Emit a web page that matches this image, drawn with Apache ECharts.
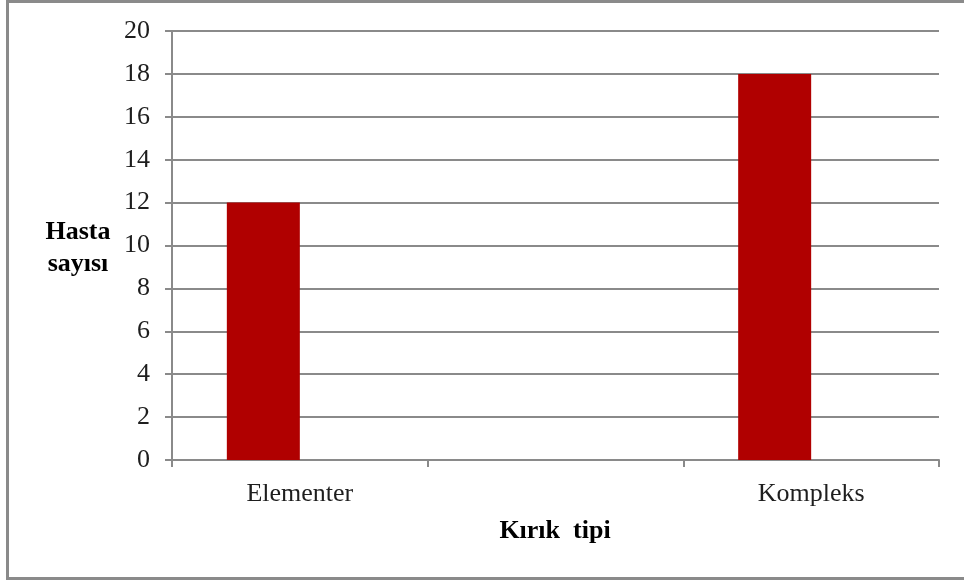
<!DOCTYPE html>
<html>
<head>
<meta charset="utf-8">
<style>
  html, body { margin: 0; padding: 0; background: #fff; }
  #chart { width: 964px; height: 581px; }
</style>
<script src="https://cdn.jsdelivr.net/npm/echarts@6/dist/echarts.min.js"></script>
</head>
<body>
<div id="chart"></div>
<script>
// Fracture types (middle slot is an empty category, as in the source layout)
const categories = ['Elementer', '', 'Kompleks'];
// Patient counts per fracture type
const patientCounts = [12, null, 18];
// Placeholder second series (no values) that keeps the cluster slot
const emptySlot = [null, null, null];
// Value axis range
const yMin = 0, yMax = 20, yStep = 2;

const serif = '"Liberation Serif", "Times New Roman", serif';
const gridGray = '#8a8a8a';

const chart = echarts.init(document.getElementById('chart'), null, { renderer: 'canvas' });

chart.setOption({
  animation: false,
  backgroundColor: '#ffffff',
  grid: { left: 172, right: 25, top: 31, bottom: 121, containLabel: false },
  xAxis: {
    type: 'category',
    data: categories,
    boundaryGap: true,
    axisLine: { show: true, lineStyle: { color: gridGray, width: 2 } },
    axisTick: { show: true, length: 7, alignWithLabel: false, lineStyle: { color: gridGray, width: 2 } },
    axisLabel: { fontFamily: serif, fontSize: 26, color: '#1e1e1e', margin: 21 }
  },
  yAxis: {
    type: 'value',
    min: yMin, max: yMax, interval: yStep,
    axisLine: { show: true, lineStyle: { color: gridGray, width: 2 } },
    axisTick: { show: true, length: 7, lineStyle: { color: gridGray, width: 2 } },
    axisLabel: { fontFamily: serif, fontSize: 26, color: '#1e1e1e', margin: 22 },
    splitLine: { show: true, lineStyle: { color: gridGray, width: 2 } }
  },
  series: [
    {
      type: 'bar',
      data: patientCounts,
      barWidth: 73,
      barGap: '0%',
      itemStyle: { color: '#b00000' }
    },
    {
      type: 'bar',
      data: emptySlot,
      barWidth: 73,
      itemStyle: { color: '#b00000' }
    }
  ],
  graphic: [
    {
      type: 'rect',
      shape: { x: 7.5, y: 1.5, width: 1000, height: 577 },
      style: { fill: 'none', stroke: '#8a8a8a', lineWidth: 3 },
      silent: true
    },
    {
      type: 'text',
      x: 78, y: 216,
      style: {
        text: 'Hasta\nsayısı',
        font: 'bold 26px ' + serif,
        lineHeight: 32,
        fill: '#000',
        align: 'center',
        verticalAlign: 'top'
      }
    },
    {
      type: 'text',
      x: 555, y: 518,
      style: {
        text: 'Kırık  tipi',
        font: 'bold 26px ' + serif,
        fill: '#000',
        align: 'center',
        verticalAlign: 'top'
      }
    }
  ]
});
</script>
</body>
</html>
